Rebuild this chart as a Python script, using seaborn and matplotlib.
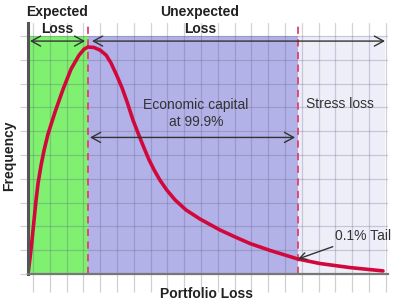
import matplotlib
matplotlib.use("Agg")
import matplotlib.pyplot as plt
import seaborn as sns
import pandas as pd

# Loss distribution curve (grid units)
loss = [-0.30, -0.18, -0.06, 0.06, 0.18, 0.30, 0.48, 0.66, 0.89, 1.31, 1.79,
        2.26, 2.74, 3.04, 3.27, 3.63, 3.99, 4.35, 4.64, 5.00, 5.30, 5.60,
        5.95, 6.37, 6.66, 6.91, 7.21, 7.55, 7.96, 8.46, 9.11, 9.94, 11.13,
        12.02, 12.92, 14.11, 15.77, 17.08, 18.87, 20.83]
freq = [0.00, 0.67, 1.43, 2.27, 3.11, 3.82, 4.58, 5.21, 5.88, 6.81, 7.77,
        8.61, 9.20, 9.45, 9.54, 9.52, 9.41, 9.20, 8.87, 8.32, 7.82, 7.23,
        6.47, 5.71, 5.21, 4.79, 4.37, 3.95, 3.53, 3.11, 2.69, 2.31, 1.85,
        1.56, 1.28, 0.99, 0.63, 0.44, 0.27, 0.13]

expected_loss = 3.27
var_999 = 15.77
x_min, x_max = -0.30, 21.13
y_max = 10.55
band_top = 10.0
stress_end = 20.95

region_labels = ["Expected\nLoss", "Unexpected\nLoss"]
inner_labels = ["Economic capital\nat 99.9%", "Stress loss"]
tail_label = "0.1% Tail"

sns.set_theme(style="white")
plt.rcParams["font.family"] = ["Liberation Sans", "DejaVu Sans"]

fig = plt.figure(figsize=(4.0, 3.04), dpi=100)
ax = fig.add_axes([28 / 400, 1 - 274 / 304, 360 / 400, 251 / 304])

df = pd.DataFrame({"loss": loss, "freq": freq})

# shaded regions
ax.fill_between([x_min, expected_loss], 0, band_top, color="#80f070", lw=0, zorder=0.5)
ax.fill_between([expected_loss, var_999], 0, band_top, color="#b2b2e8", lw=0, zorder=0.5)
ax.fill_between([var_999, stress_end], 0, band_top, color="#eeeef9", lw=0, zorder=0.5)

sns.lineplot(data=df, x="loss", y="freq", ax=ax, color="#d2083c", lw=2.6,
             sort=False, zorder=4, solid_joinstyle="round", solid_capstyle="round")

ax.set_xlim(x_min, x_max)
ax.set_ylim(0, y_max)
ax.set_xticks(range(0, 22))
ax.set_yticks(range(0, 11))
ax.set_xticklabels([])
ax.set_yticklabels([])
ax.set_axisbelow(False)
ax.grid(True, color="#55557a", alpha=0.26, lw=0.9, zorder=1)
ax.tick_params(axis="x", direction="out", length=13, width=0.9, color="#d0d0d0", bottom=True)
ax.tick_params(axis="y", direction="out", length=6, width=0.9, color="#d0d0d0", left=True)

for s in ["top", "right"]:
    ax.spines[s].set_visible(False)
ax.spines["left"].set_color("#555555")
ax.spines["left"].set_linewidth(2.2)
ax.spines["bottom"].set_color("#777777")
ax.spines["bottom"].set_linewidth(1.6)
ax.spines["left"].set_zorder(5)
ax.spines["bottom"].set_zorder(5)

# dashed boundaries
for xv in [expected_loss, var_999]:
    ax.plot([xv, xv], [0, y_max + 0.05], color="#e0406a", lw=1.3, ls=(0, (4, 3)),
            zorder=3, clip_on=False)

arrow_kw = dict(arrowstyle="<->,head_length=0.55,head_width=0.3", color="#333333", lw=1.0,
                shrinkA=0, shrinkB=0)
ax.annotate("", xy=(-0.18, 9.79), xytext=(3.10, 9.79), arrowprops=arrow_kw, zorder=6)
ax.annotate("", xy=(3.51, 9.79), xytext=(20.95, 9.79), arrowprops=arrow_kw, zorder=6)
ax.annotate("", xy=(3.39, 5.74), xytext=(15.6, 5.74), arrowprops=arrow_kw, zorder=6)

ax.text(1.43, 10.65, region_labels[0], ha="center", va="center", fontsize=10,
        fontweight="bold", color="#222222", linespacing=1.25, clip_on=False)
ax.text(9.94, 10.65, region_labels[1], ha="center", va="center", fontsize=10,
        fontweight="bold", color="#222222", linespacing=1.25, clip_on=False)
ax.text(9.70, 6.74, inner_labels[0], ha="center", va="center", fontsize=10,
        color="#333333", linespacing=1.25)
ax.text(18.27, 7.14, inner_labels[1], ha="center", va="center", fontsize=10,
        color="#333333")
ax.annotate(tail_label, xy=(var_999, 0.63), xytext=(17.98, 1.60), ha="left", va="center",
            fontsize=10, color="#333333",
            arrowprops=dict(arrowstyle="->,head_length=0.5,head_width=0.25",
                            color="#333333", lw=1.0, shrinkA=1, shrinkB=0),
            annotation_clip=False, zorder=6)

ax.set_xlabel("Portfolio Loss", fontsize=10, fontweight="bold", color="#222222")
ax.set_ylabel("Frequency", fontsize=10, fontweight="bold", color="#222222")
ax.xaxis.set_label_coords(0.497, -0.05)
ax.yaxis.set_label_coords(-0.033, 0.47)

fig.savefig("out.png", dpi=100)
